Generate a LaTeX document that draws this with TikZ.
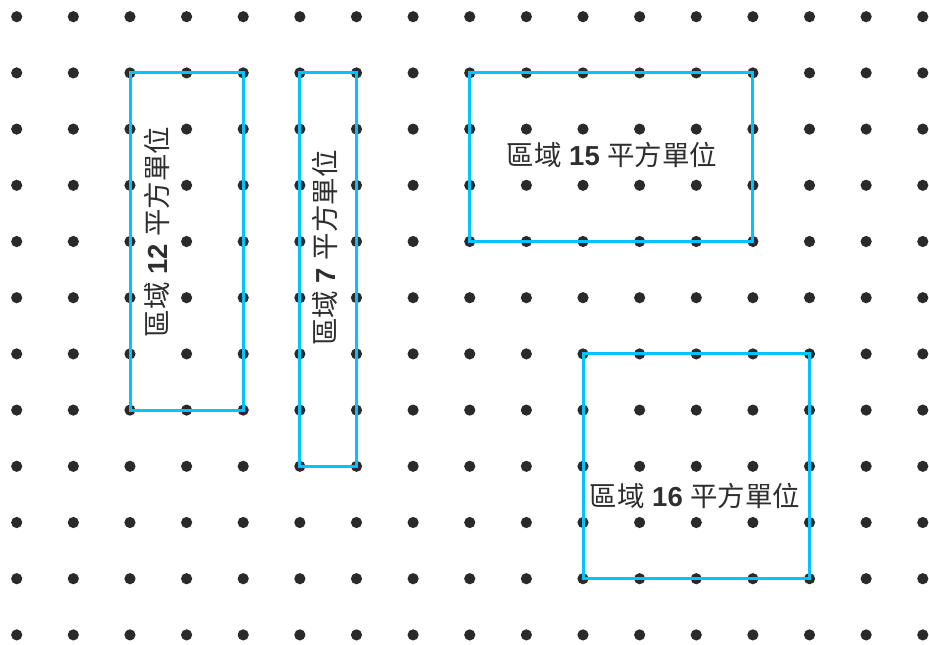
\documentclass[tikz,border=0pt]{standalone}
\usepackage{fontspec}
\setmainfont{Liberation Sans}
\newfontfamily\cjk{Noto Sans CJK TC}
\definecolor{dotcol}{HTML}{2A2A2A}
\definecolor{regcol}{HTML}{00C4FF}
\definecolor{txtcol}{HTML}{2E2E2E}
\begin{document}
\begin{tikzpicture}[x=1pt,y=-1pt,
  dot/.style={fill=dotcol},
  region/.style={draw=regcol,line width=3pt},
  lbl/.style={text=txtcol,font=\fontsize{27.5}{30}\selectfont,inner sep=0pt}]
\useasboundingbox (0,0) rectangle (929,645);
\foreach \i in {0,...,16}{
  \foreach \j in {0,...,11}{
    \fill[dot] ({16.7+56.63*\i},{16.7+56.2*\j}) circle (5.6);
  }
}
\draw[region] (130.0,72.9) rectangle (243.2,410.1);
\draw[region] (299.9,72.9) rectangle (356.5,466.3);
\draw[region] (469.7,72.9) rectangle (752.9,241.5);
\draw[region] (583.0,353.9) rectangle (809.5,578.7);
\node[lbl,rotate=90] (t1) at (157,232) {{\cjk 區域} \textbf{12} {\cjk 平方單位}};
\node[lbl,rotate=90] (t2) at (325,248) {{\cjk 區域} \textbf{7} {\cjk 平方單位}};
\node[lbl] (t3) at (612,155) {{\cjk 區域} \textbf{15} {\cjk 平方單位}};
\node[lbl] (t4) at (695,496) {{\cjk 區域} \textbf{16} {\cjk 平方單位}};
\end{tikzpicture}
\end{document}
